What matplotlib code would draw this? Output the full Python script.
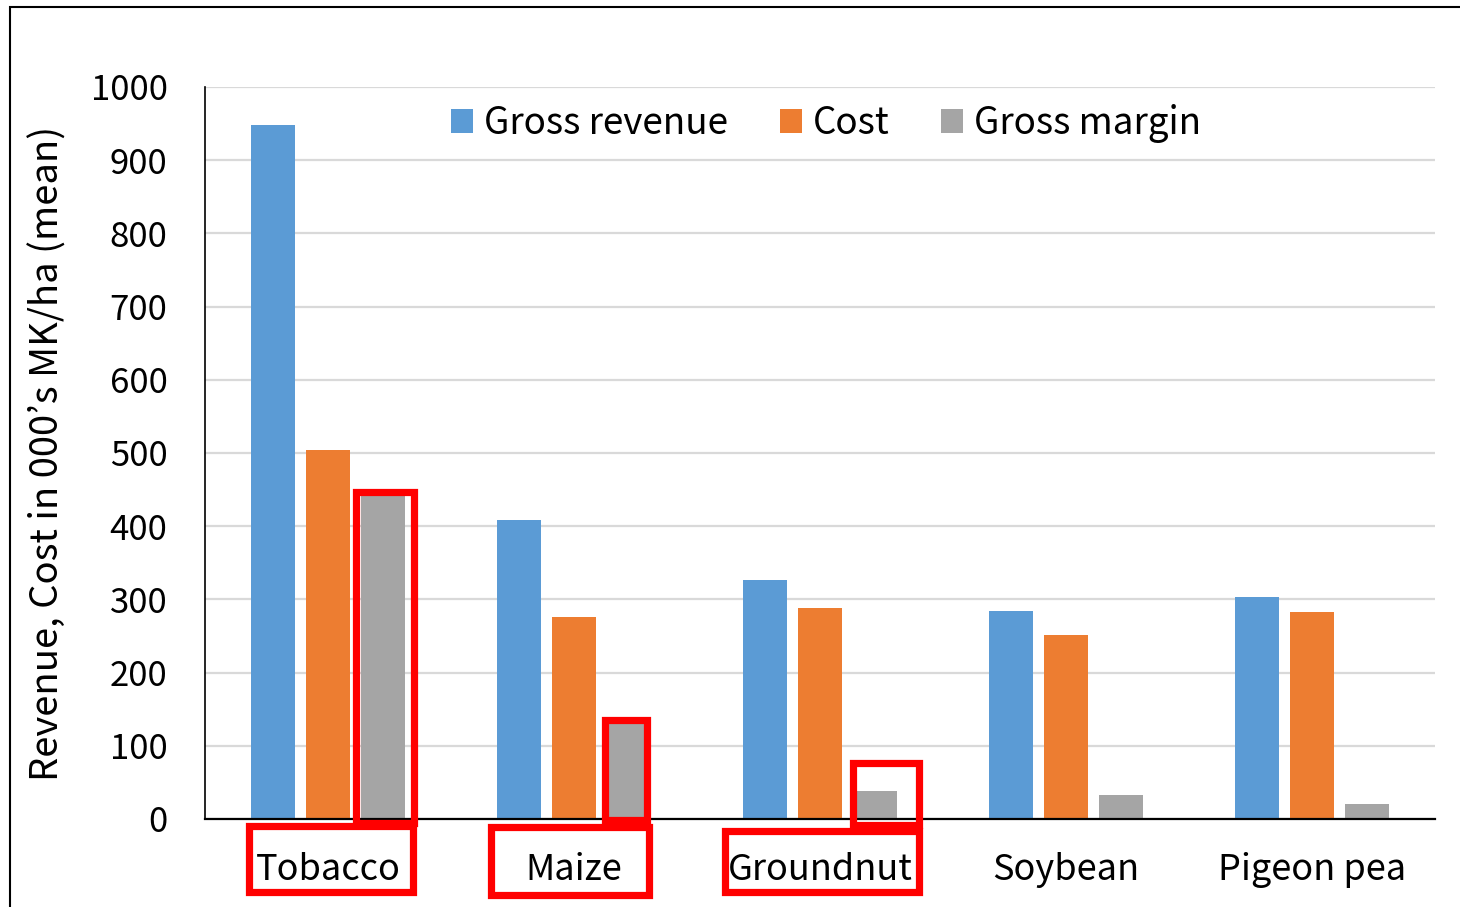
import numpy as np
import matplotlib.pyplot as plt
from matplotlib.patches import Rectangle
from matplotlib.transforms import IdentityTransform

plt.rcParams['font.family'] = ['Noto Sans CJK JP', 'DejaVu Sans']

crops = ['Tobacco', 'Maize', 'Groundnut', 'Soybean', 'Pigeon pea']
gross_revenue = [948, 408, 326, 284, 303]
cost = [504, 276, 288, 251, 283]
gross_margin = [444, 132, 38, 33, 20]
series_names = ['Gross revenue', 'Cost', 'Gross margin']
colors = ['#5b9bd5', '#ed7d31', '#a5a5a5']

# red highlight boxes, pixel coords (left, top, right, bottom) from top-left
highlights = [(352, 488, 417, 826), (245, 822, 416, 895),
              (601, 716, 650, 823), (487, 823, 652, 898),
              (849, 759, 922, 828), (721, 827, 922, 895)]

W, H = 1460, 907
fig = plt.figure(figsize=(W / 100, H / 100), dpi=100)
ax = fig.add_axes([205 / W, (H - 819) / H, 1230 / W, 732 / H])

x = np.arange(len(crops))
off = 0.223
wid = 0.18
for i, vals in enumerate([gross_revenue, cost, gross_margin]):
    ax.bar(x + (i - 1) * off, vals, wid, color=colors[i], label=series_names[i], zorder=3)

ax.set_xlim(-0.5, len(crops) - 0.5)
ax.set_ylim(0, 1000)
ax.set_yticks(range(0, 1001, 100))
ax.set_xticks(x)
ax.set_xticklabels(crops)
ax.tick_params(axis='both', length=0, labelsize=25)
ax.tick_params(axis='x', labelsize=26)
ax.tick_params(axis='y', pad=27)
ax.tick_params(axis='x', pad=24)
ax.grid(axis='y', color='#d9d9d9', lw=1.6, zorder=0)
for s in ['top', 'right']:
    ax.spines[s].set_visible(False)
ax.spines['left'].set_color('black')
ax.spines['bottom'].set_color('black')
ax.spines['left'].set_linewidth(1.2)
ax.spines['bottom'].set_linewidth(1.6)
ax.spines['bottom'].set_zorder(4)
ax.set_ylabel('Revenue, Cost in 000’s MK/ha (mean)', fontsize=27.5)
ax.yaxis.set_label_coords(-0.112, 0.5)

ax.legend(loc='upper center', bbox_to_anchor=(0.505, 1.022), ncol=3, frameon=False,
          fontsize=26.5, handlelength=0.6, handleheight=0.6, handletextpad=0.3,
          columnspacing=1.4)

# figure border
fig.patches.append(Rectangle((10, -10), W + 20, H - 7 + 10, fill=False,
                             ec='black', lw=1.5, transform=IdentityTransform(),
                             figure=fig))
for (l, t, r, b) in highlights:
    fig.patches.append(Rectangle((l + 3.5, H - b + 3.5), r - l - 7, b - t - 7,
                                 fill=False, ec='#ff0000', lw=5.2,
                                 transform=IdentityTransform(), figure=fig, zorder=10))

fig.savefig('out.png', dpi=100)
